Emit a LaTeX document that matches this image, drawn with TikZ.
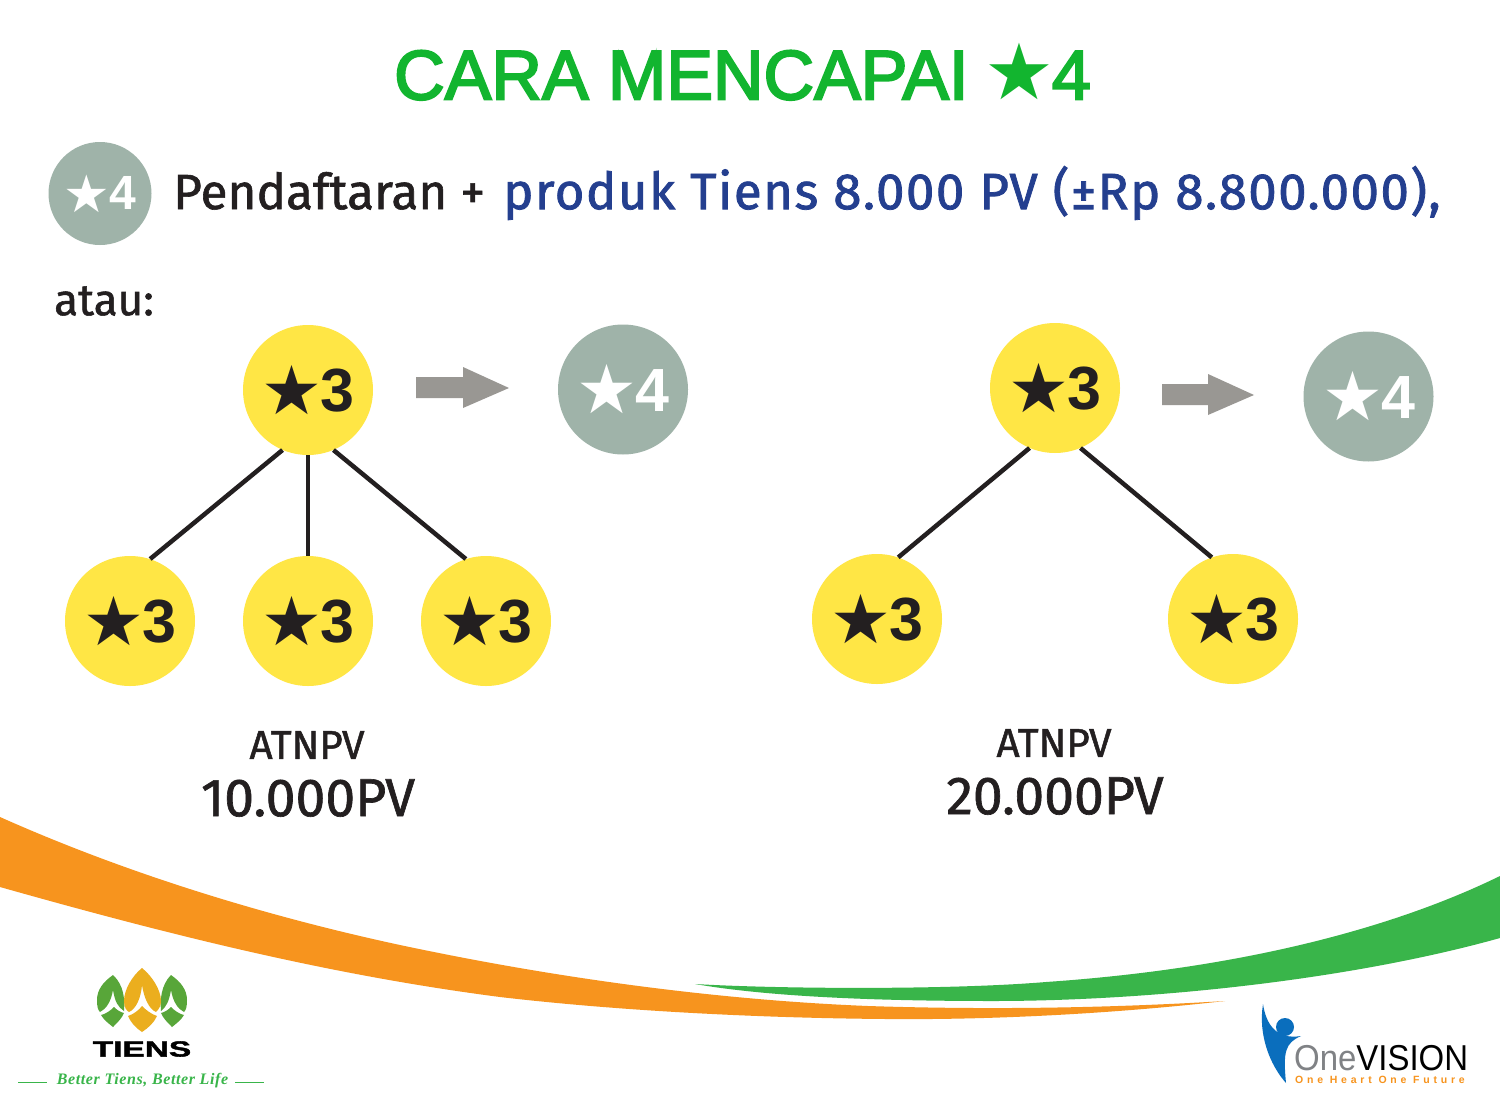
\documentclass[tikz,border=0pt]{standalone}
\usepackage{fontspec}
\setmainfont{Liberation Sans}
\newfontfamily\titlef[FakeBold=3]{Liberation Sans}
\newfontfamily\numf{Liberation Sans}
\newfontfamily\bodyf[FakeBold=1.2]{Fira Sans}
\newfontfamily\bluef[FakeBold=1.5,LetterSpace=2.9]{Fira Sans}
\newfontfamily\symf{DejaVu Sans}
\newfontfamily\wideb[FakeBold=1.5]{Liberation Sans}
\newfontfamily\spaced[LetterSpace=36]{Liberation Sans}
\newfontfamily\mottof[LetterSpace=3.8]{Liberation Serif}
\definecolor{titlegreen}{HTML}{12B52F}
\definecolor{badgegray}{HTML}{9FB3A9}
\definecolor{staryellow}{HTML}{FFE645}
\definecolor{inkdark}{HTML}{231F20}
\definecolor{bluetext}{HTML}{243F8F}
\definecolor{arrowgray}{HTML}{999793}
\definecolor{swooshorange}{HTML}{F7941E}
\definecolor{swooshgreen}{HTML}{39B54A}
\definecolor{leafgreen}{HTML}{58A639}
\definecolor{leafgold}{HTML}{EBAE1E}
\definecolor{ovblue}{HTML}{0A6EBD}
\definecolor{ovgray}{HTML}{808285}
\definecolor{ovorange}{HTML}{F7941E}
\tikzset{
  x=1pt,y=-1pt,
  rank3/.style={circle,fill=staryellow,minimum size=130pt,inner sep=0pt,text=inkdark,
    font=\numf\bfseries\fontsize{61}{61}\selectfont},
  rank4/.style={circle,fill=badgegray,minimum size=130pt,inner sep=0pt,text=white,
    font=\numf\bfseries\fontsize{61}{61}\selectfont},
  link/.style={draw=inkdark,line width=4.5pt},
  lbl/.style={text=inkdark,inner sep=0pt},
}
\newcommand{\stt}{{\symf\fontsize{68}{68}\selectfont ★}}
\newcommand{\rk}[1]{\raisebox{1pt}{\stt}\kern-2pt\raisebox{3.5pt}{#1}}
\begin{document}
\begin{tikzpicture}
\useasboundingbox (0,0) rectangle (1500,1111);
\fill[white] (0,0) rectangle (1500,1111);

% title
\node[text=titlegreen,inner sep=0pt,font=\titlef\fontsize{70}{70}\selectfont] (title) at (742.5,71.5)
  {CARA MENCAPAI\kern-3pt\ {\symf\fontsize{78}{78}\selectfont ★}\kern-3pt 4};

% top line
\node[rank4,minimum size=103pt,font=\numf\bfseries\fontsize{48}{48}\selectfont] (badge) at (100,193.5)
  {{\symf\fontsize{52}{52}\selectfont ★}\kern-1pt\raisebox{2.5pt}{4}};
\node[anchor=west,inner sep=0pt,font=\bodyf\fontsize{49.5}{50}\selectfont] (line) at (173,193)
  {\textcolor{inkdark}{Pendaftaran + }\kern5pt\textcolor{bluetext}{\bluef\fontsize{51}{50}\selectfont produk Tiens 8.000 PV (±Rp 8.800.000),}};
\node[lbl,anchor=west,font=\bodyf\fontsize{44}{44}\selectfont] (atau) at (54,301) {atau:};

% left tree
\node[rank3] (la) at (308,390) {\rk{3}};
\node[rank4] (lr) at (623,389.5) {\rk{4}};
\node[rank3] (lb1) at (130,621) {\rk{3}};
\node[rank3] (lb2) at (308,621) {\rk{3}};
\node[rank3] (lb3) at (486,621) {\rk{3}};
\draw[link] (la.247) -- (lb1.72);
\draw[link] (la.south) -- (lb2.north);
\draw[link] (la.293) -- (lb3.108);
\fill[arrowgray] (416,377) -- (463,377) -- (463,367) -- (509,388) -- (463,408) -- (463,398) -- (416,398) -- cycle;
\node[lbl,font=\bodyf\fontsize{40.5}{40}\selectfont] (lt1) at (307,745) {ATNPV};
\node[lbl,font=\bodyf\fontsize{53.5}{50}\selectfont] (lt2) at (308,798) {10.000PV};

% right tree
\node[rank3] (ra) at (1055,388) {\rk{3}};
\node[rank4] (rr) at (1368.5,396.5) {\rk{4}};
\node[rank3] (rb1) at (877,619) {\rk{3}};
\node[rank3] (rb2) at (1233,619) {\rk{3}};
\draw[link] (ra.247) -- (rb1.71);
\draw[link] (ra.293) -- (rb2.109);
\fill[arrowgray] (1162,384) -- (1208,384) -- (1208,374) -- (1254,395) -- (1208,415) -- (1208,405) -- (1162,405) -- cycle;
\node[lbl,font=\bodyf\fontsize{40.5}{40}\selectfont] (rt1) at (1054,743) {ATNPV};
\node[lbl,font=\bodyf\fontsize{53.5}{50}\selectfont] (rt2) at (1055,796) {20.000PV};

% swooshes
\fill[swooshorange] (0,817) .. controls (130,875) and (270,917) .. (400,945)
  .. controls (560,979) and (720,1000) .. (868,1006)
  .. controls (990,1010) and (1110,1008) .. (1225,1001)
  .. controls (1110,1014) and (990,1020) .. (886,1019)
  .. controls (760,1018) and (620,1011) .. (500,997)
  .. controls (330,975) and (170,935) .. (0,887) -- cycle;
\fill[swooshgreen] (695,984) .. controls (780,989) and (950,990) .. (1046,982)
  .. controls (1250,968) and (1400,925) .. (1500,876)
  -- (1500,938)
  .. controls (1350,980) and (1150,1001) .. (993,1001)
  .. controls (880,1001) and (770,997) .. (695,984) -- cycle;

% TIENS logo
\fill[leafgreen] (113,975) .. controls (103,982) and (97,990) .. (97,1000)
  .. controls (97,1007) and (98,1010) .. (100,1012)
  .. controls (106,1009) and (111,1002) .. (113,990)
  .. controls (115,1002) and (118,1007) .. (124,1011)
  .. controls (125,1000) and (124,985) .. (113,975) -- cycle;
\fill[leafgreen] (101,1015) .. controls (106,1014) and (111,1010) .. (114,1007)
  .. controls (117,1010) and (120,1012) .. (124,1013)
  .. controls (122,1018) and (118,1022) .. (113,1027)
  .. controls (108,1023) and (104,1020) .. (101,1015) -- cycle;
\fill[leafgreen] (171,975) .. controls (181,982) and (187,990) .. (187,1000)
  .. controls (187,1007) and (186,1010) .. (184,1012)
  .. controls (178,1009) and (173,1002) .. (171,990)
  .. controls (169,1002) and (166,1007) .. (161,1011)
  .. controls (160,1000) and (161,985) .. (171,975) -- cycle;
\fill[leafgreen] (184,1015) .. controls (179,1014) and (174,1010) .. (171,1007)
  .. controls (168,1010) and (165,1012) .. (161,1013)
  .. controls (163,1018) and (167,1022) .. (172,1027)
  .. controls (177,1023) and (181,1020) .. (184,1015) -- cycle;
\fill[leafgold] (142,968) .. controls (132,976) and (124,990) .. (124,1001)
  .. controls (124,1008) and (127,1011) .. (129,1012)
  .. controls (136,1009) and (141,998) .. (142,985)
  .. controls (144,998) and (149,1009) .. (156,1012)
  .. controls (159,1009) and (161,1006) .. (161,1001)
  .. controls (161,990) and (152,976) .. (142,968) -- cycle;
\fill[leafgold] (128,1016) .. controls (134,1014) and (139,1010) .. (142,1006)
  .. controls (146,1010) and (151,1014) .. (157,1016)
  .. controls (154,1023) and (148,1028) .. (142,1032)
  .. controls (136,1028) and (131,1023) .. (128,1016) -- cycle;
\node[inner sep=0pt,text=black,font=\wideb\bfseries\fontsize{22}{22}\selectfont,xscale=1.52] (tiens) at (142,1049) {TIENS};
\node[inner sep=0pt,text=swooshgreen,font=\mottof\itshape\bfseries\fontsize{16}{16}\selectfont] (motto) at (142.5,1081) {Better Tiens, Better Life};
\coordinate (m1) at (18,1082.5); \coordinate (m2) at (47,1082.5);
\coordinate (m3) at (235,1082.5); \coordinate (m4) at (264,1082.5);
\draw[swooshgreen,line width=1.2pt] (m1) -- (m2);
\draw[swooshgreen,line width=1.2pt] (m3) -- (m4);

% OneVISION logo
\fill[ovblue] (1263,1004) .. controls (1266,1024) and (1276,1040) .. (1301,1036)
  .. controls (1285,1043) and (1283,1052) .. (1286,1083)
  .. controls (1270,1065) and (1258,1035) .. (1263,1004) -- cycle;
\fill[ovblue] (1285,1027) circle[radius=9pt];
\node[anchor=base west,inner sep=0pt,font=\fontsize{36}{36}\selectfont,xscale=.915] (ov) at (1294,1070)
  {\textcolor{ovgray}{One}\textcolor{black}{VISION}};
\node[anchor=base west,inner sep=0pt,text=ovorange,font=\spaced\bfseries\fontsize{10.5}{11}\selectfont] (ovt) at (1295,1083)
  {One Heart One Future};
\end{tikzpicture}
\end{document}
